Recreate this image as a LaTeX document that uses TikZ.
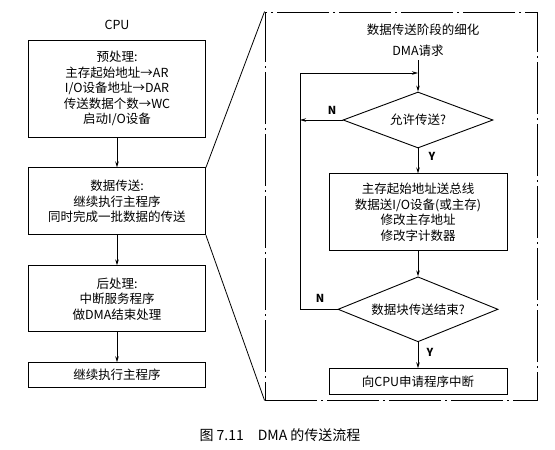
\documentclass[tikz,border=0pt]{standalone}
\usepackage{fontspec}
\setmainfont{Noto Sans CJK SC}
\usetikzlibrary{arrows.meta, positioning, shapes.geometric}

\begin{document}
\begin{tikzpicture}[x=1pt, y=-1pt, font=\fontsize{12.5}{15.5}\selectfont,
    box/.style={draw, line width=0.9pt, align=center, inner sep=2pt},
    decide/.style={draw, diamond, aspect=2.5, line width=0.9pt, inner sep=0pt, align=center},
    flow/.style={-{Stealth[length=6pt, width=3.5pt]}, line width=0.8pt},
    tag/.style={font=\fontsize{11}{13}\selectfont\bfseries},
    frame/.style={draw, line width=0.9pt, dash pattern=on 52pt off 4pt on 2pt off 4pt}]
  \useasboundingbox (0,0) rectangle (555,450);

  % CPU side
  \node (cpu) at (117,25) {CPU};
  \node[box, minimum width=177pt, minimum height=97pt] (pre) at (117,88.5)
    {预处理:\\主存起始地址→AR\\I/O设备地址→DAR\\传送数据个数→WC\\启动I/O设备};
  \node[box, minimum width=177pt, minimum height=67pt, below=30pt of pre] (xfer)
    {数据传送:\\继续执行主程序\\同时完成一批数据的传送};
  \node[box, minimum width=177pt, minimum height=66pt, below=30pt of xfer] (post)
    {后处理:\\中断服务程序\\做DMA结束处理};
  \node[box, minimum width=177pt, minimum height=25pt, below=30pt of post] (resume)
    {继续执行主程序};
  \draw[flow] (pre) -- (xfer);
  \draw[flow] (xfer) -- (post);
  \draw[flow] (post) -- (resume);

  % detail of the transfer stage
  \node[frame, minimum width=272pt, minimum height=388pt] (zoom) at (401,206) {};
  \draw[line width=0.8pt] (xfer.north east) -- (zoom.north west);
  \draw[line width=0.8pt] (xfer.south east) -- (zoom.south west);

  \node (title) at (423,30) {数据传送阶段的细化};
  \node (req) at (418,51) {DMA请求};
  \node[decide, minimum width=150pt, minimum height=56pt] (ask) at (418,120) {允许传送?};
  \node[box, minimum width=178pt, minimum height=77pt, below=25pt of ask] (move)
    {主存起始地址送总线\\数据送I/O设备(或主存)\\修改主存地址\\修改字计数器};
  \node[decide, minimum width=160pt, minimum height=65pt, below=25pt of move] (done) {数据块传送结束?};
  \node[box, minimum width=178pt, minimum height=26pt, below=26pt of done] (irq)
    {向CPU申请程序中断};

  \coordinate (lp) at (300,73);
  \draw[flow] (req) -- (ask);
  \draw[flow] (done.west) -| (lp) -- (lp -| ask.north);
  \draw[flow] (ask.west) -- (ask.west -| lp);
  \draw[flow] (ask) -- (move);
  \draw[flow] (move) -- (done);
  \draw[flow] (done) -- (irq);

  \node[tag] at (332,110) {N};
  \node[tag] at (432,156) {Y};
  \node[tag] at (320,298) {N};
  \node[tag] at (430,352) {Y};

  \node[font=\fontsize{14}{16}\selectfont] (caption) at (280,435) {图 7.11\quad DMA 的传送流程};
\end{tikzpicture}
\end{document}
